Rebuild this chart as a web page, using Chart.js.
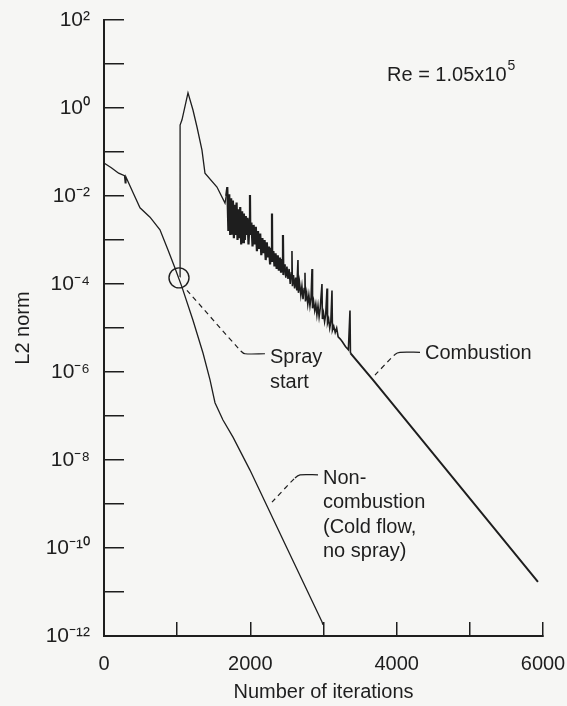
<!DOCTYPE html>
<html>
<head>
<meta charset="utf-8">
<script src="https://cdn.jsdelivr.net/npm/chart.js@4/dist/chart.umd.min.js"></script>
<style>
  body { margin: 0; background: #f6f6f4; }
  canvas { display: block; }
</style>
</head>
<body>
<canvas id="chart" width="567" height="706"></canvas>
<script>
// cold flow (non-combustion) run
var coldIter = [0, 100, 200, 280, 290, 300, 396, 492, 629, 765,
  875, 970, 1066, 1216, 1353, 1449, 1517, 1626, 1763, 1995,
  2500, 2979, 2993];
var coldL2 = [5.6e-2, 4.4e-2, 3.3e-2, 2.9e-2, 2.0e-2, 2.7e-2, 1.2e-2, 5.4e-3, 3.3e-3, 1.7e-3,
  5.9e-4, 2.3e-4, 8.5e-5, 1.5e-5, 2.7e-6, 6.6e-7, 2.0e-7, 8.1e-8, 3.3e-8, 5.9e-9,
  1.0e-10, 2.1e-12, 1.8e-12];

// combustion run (spray starts ~1040 iterations)
var combIter = [1039, 1040, 1066, 1148, 1216, 1271, 1339, 1380, 1544, 1654,
  1670, 1685, 1700, 1712, 1725, 1738, 1750, 1762, 1775, 1788,
  1800, 1812, 1825, 1838, 1850, 1862, 1875, 1888, 1900, 1912,
  1925, 1938, 1950, 1962, 1975, 1990, 1995, 2000, 2015, 2030,
  2045, 2060, 2075, 2090, 2105, 2120, 2135, 2150, 2165, 2180,
  2195, 2210, 2225, 2240, 2255, 2270, 2285, 2296, 2300, 2315,
  2330, 2345, 2360, 2375, 2390, 2405, 2420, 2435, 2446, 2452,
  2470, 2485, 2500, 2515, 2530, 2545, 2560, 2569, 2575, 2590,
  2605, 2620, 2635, 2651, 2657, 2672, 2690, 2705, 2720, 2735,
  2747, 2753, 2770, 2785, 2800, 2815, 2830, 2843, 2850, 2865,
  2880, 2895, 2910, 2925, 2940, 2955, 2979, 2985, 3000, 3015,
  3030, 3048, 3055, 3070, 3085, 3100, 3116, 3122, 3140, 3160,
  3180, 3200, 3230, 3260, 3300, 3340, 3362, 3368, 3676, 5931];
var combL2 = [1.45e-4, 0.41, 0.54, 2.2, 0.9, 0.37, 0.11, 3.3e-2, 1.6e-2, 6.9e-3,
  1.0e-2, 1.6e-2, 1.6e-3, 1.1e-2, 1.3e-3, 8.9e-3, 1.4e-3, 7.9e-3, 1.1e-3, 6.3e-3,
  1.3e-3, 7.1e-3, 1.0e-3, 5.0e-3, 1.1e-3, 5.6e-3, 7.9e-4, 4.5e-3, 8.9e-4, 4.0e-3,
  1.0e-3, 3.5e-3, 1.3e-3, 3.2e-3, 7.9e-4, 2.8e-3, 1.05e-2, 1.3e-3, 2.5e-3, 7.1e-4,
  2.2e-3, 7.9e-4, 2.0e-3, 5.6e-4, 1.6e-3, 6.3e-4, 1.4e-3, 4.5e-4, 1.1e-3, 5.0e-4,
  1.0e-3, 3.5e-4, 8.9e-4, 4.0e-4, 7.1e-4, 2.8e-4, 6.3e-4, 4.0e-3, 3.2e-4, 5.6e-4,
  2.5e-4, 5.0e-4, 2.2e-4, 4.5e-4, 2.0e-4, 4.0e-4, 1.8e-4, 3.5e-4, 1.3e-3, 1.6e-4,
  2.8e-4, 1.4e-4, 2.5e-4, 1.3e-4, 2.2e-4, 1.0e-4, 1.8e-4, 5.6e-4, 8.9e-5, 1.6e-4,
  7.9e-5, 1.4e-4, 7.1e-5, 3.5e-4, 6.3e-5, 1.1e-4, 5.6e-5, 8.9e-5, 4.5e-5, 7.9e-5,
  1.8e-4, 4.0e-5, 6.3e-5, 3.5e-5, 5.6e-5, 3.2e-5, 5.0e-5, 2.2e-4, 2.8e-5, 4.0e-5,
  2.5e-5, 3.5e-5, 2.0e-5, 3.2e-5, 1.8e-5, 2.8e-5, 1.0e-4, 1.6e-5, 2.2e-5, 1.4e-5,
  2.0e-5, 7.9e-5, 1.3e-5, 1.6e-5, 1.0e-5, 1.4e-5, 7.1e-5, 8.9e-6, 1.1e-5, 7.9e-6,
  1.0e-5, 6.3e-6, 5.6e-6, 4.8e-6, 3.8e-6, 3.2e-6, 2.5e-5, 2.7e-6, 6.6e-7, 1.7e-11];

// spray start marker
var sprayIter = [1025];
var sprayL2 = [1.38e-4];

var xTickValues = [0, 1000, 2000, 3000, 4000, 5000, 6000];
var xTickLabels = ['0', '', '2000', '', '4000', '', '6000'];
var yTickValues = [1e-12, 1e-11, 1e-10, 1e-9, 1e-8, 1e-7, 1e-6, 1e-5, 1e-4, 1e-3, 1e-2, 1e-1, 1, 10, 100];
var yTickLabels = ['10\u207B\u00B9\u00B2', '', '10\u207B\u00B9\u2070', '', '10\u207B\u2078', '', '10\u207B\u2076', '',
  '10\u207B\u2074', '', '10\u207B\u00B2', '', '10\u2070', '', '10\u00B2'];

// leader lines (dashed part then short solid elbow)
var leaders = [
  { x: [1134, 1870, 1927, 2200], y: [7.2e-5, 3.0e-6, 2.6e-6, 2.6e-6] },
  { x: [3704, 3977, 4045, 4319], y: [8.5e-7, 2.5e-6, 2.8e-6, 2.8e-6] },
  { x: [2296, 2610, 2679, 2925], y: [1.1e-9, 3.9e-9, 4.6e-9, 4.6e-9] }
];

var notes = [
  { x: 3868, y: 5.6, lines: ['Re = 1.05x10'], sup: '5' },
  { x: 2269, y: 2.1e-6, lines: ['Spray', 'start'] },
  { x: 4387, y: 2.7e-6, lines: ['Combustion'] },
  { x: 2993, y: 3.9e-9, lines: ['Non-', 'combustion', '(Cold flow,', 'no spray)'] }
];

var ink = '#1e1e1e';
var fontFamily = '"Liberation Sans", Arial, sans-serif';

function toPoints(xs, ys) {
  return xs.map(function (x, i) { return { x: x, y: ys[i] }; });
}

// keep the plot box fixed; ignore label overflow padding
function fixPadding(s) {
  s.paddingTop = 0; s.paddingBottom = 0; s.paddingLeft = 0; s.paddingRight = 0;
}

var datasets = [
  {
    label: 'Non-combustion',
    data: toPoints(coldIter, coldL2),
    borderColor: ink, borderWidth: 1.3, pointRadius: 0, tension: 0
  },
  {
    label: 'Combustion',
    data: toPoints(combIter, combL2),
    borderColor: ink, borderWidth: 1.3, pointRadius: 0, tension: 0,
    segment: {
      borderWidth: function (c) {
        var x = c.p0.parsed.x;
        if (x >= 3368) return 2;
        if (x >= 1660 && x < 2460) return 2.2;
        if (x >= 2460) return 1.6;
        return 1.3;
      }
    }
  },
  {
    label: 'Spray start',
    data: toPoints(sprayIter, sprayL2),
    showLine: false, pointRadius: 10, pointBorderWidth: 1.4,
    pointBorderColor: ink, pointBackgroundColor: 'rgba(0,0,0,0)'
  }
];

leaders.forEach(function (l) {
  datasets.push({
    label: 'leader',
    data: toPoints(l.x, l.y),
    borderColor: ink, borderWidth: 1.2, pointRadius: 0, tension: 0.3,
    segment: {
      borderDash: function (c) { return c.p0DataIndex === 0 ? [5, 4] : []; }
    }
  });
});

var notesPlugin = {
  id: 'notes',
  afterDatasetsDraw: function (chart) {
    var ctx = chart.ctx;
    var xs = chart.scales.x, ys = chart.scales.y;
    ctx.save();
    ctx.fillStyle = ink;
    ctx.textBaseline = 'middle';
    ctx.textAlign = 'left';
    notes.forEach(function (n) {
      var px = xs.getPixelForValue(n.x);
      var py = ys.getPixelForValue(n.y);
      ctx.font = '20px ' + fontFamily;
      n.lines.forEach(function (t, i) {
        ctx.fillText(t, px, py + i * 24.5);
      });
      if (n.sup) {
        var w = ctx.measureText(n.lines[0]).width;
        ctx.font = '14px ' + fontFamily;
        ctx.fillText(n.sup, px + w + 1, py - 9);
      }
    });
    ctx.restore();
  }
};

Chart.defaults.font.family = fontFamily;
Chart.defaults.font.size = 20;
Chart.defaults.color = ink;

new Chart(document.getElementById('chart'), {
  type: 'line',
  data: { datasets: datasets },
  options: {
    responsive: false,
    animation: false,
    layout: { padding: { top: 20, right: 24, left: 0, bottom: 0 } },
    plugins: { legend: { display: false }, tooltip: { enabled: false } },
    scales: {
      x: {
        type: 'linear',
        min: 0, max: 6000,
        afterFit: function (s) { s.height = 70; fixPadding(s); },
        afterBuildTicks: function (s) {
          s.ticks = xTickValues.map(function (v) { return { value: v }; });
        },
        ticks: {
          autoSkip: false, maxRotation: 0, padding: 30,
          callback: function (v, i) { return xTickLabels[i]; }
        },
        grid: { drawOnChartArea: false, drawTicks: true, tickLength: -14, color: ink, lineWidth: 1.5 },
        border: { display: true, color: ink, width: 2 },
        title: { display: true, text: 'Number of iterations', padding: { top: 0, bottom: 2 } }
      },
      y: {
        type: 'logarithmic',
        min: 1e-12, max: 100,
        afterFit: function (s) { s.width = 104; fixPadding(s); },
        afterBuildTicks: function (s) {
          s.ticks = yTickValues.map(function (v) { return { value: v }; });
        },
        ticks: {
          autoSkip: false, padding: 34, font: { size: 21 },
          callback: function (v, i) { return yTickLabels[i]; }
        },
        grid: { drawOnChartArea: false, drawTicks: true, tickLength: -20, color: ink, lineWidth: 1.5 },
        border: { display: true, color: ink, width: 2 },
        title: { display: true, text: 'L2 norm', padding: { top: 11, bottom: 0 } }
      }
    }
  },
  plugins: [notesPlugin]
});
</script>
</body>
</html>
